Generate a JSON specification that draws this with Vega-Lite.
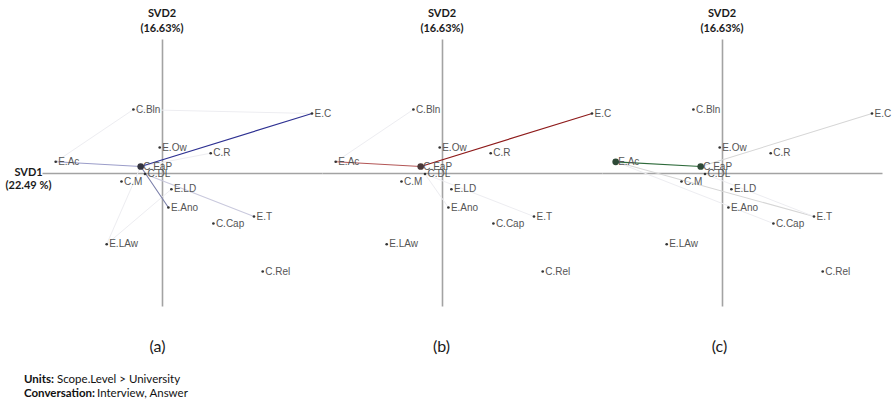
{
  "$schema": "https://vega.github.io/schema/vega-lite/v6.json",
  "background": "white",
  "padding": {"left": 5, "top": 8, "right": 0, "bottom": 0},
  "datasets": {
    "points": [
      {"label": "E.C", "x": 1.5, "y": 0.595},
      {"label": "C.Bln", "x": -0.286, "y": 0.635},
      {"label": "E.Ow", "x": -0.023, "y": 0.255},
      {"label": "C.R", "x": 0.487, "y": 0.198},
      {"label": "E.Ac", "x": -1.063, "y": 0.112},
      {"label": "C.EaP", "x": -0.213, "y": 0.065},
      {"label": "C.DL", "x": -0.17, "y": -0.01},
      {"label": "C.M", "x": -0.405, "y": -0.085},
      {"label": "E.LD", "x": 0.094, "y": -0.162},
      {"label": "E.Ano", "x": 0.064, "y": -0.345},
      {"label": "E.T", "x": 0.92, "y": -0.435},
      {"label": "C.Cap", "x": 0.514, "y": -0.505},
      {"label": "E.LAw", "x": -0.553, "y": -0.712},
      {"label": "C.Rel", "x": 1.007, "y": -0.985}
    ],
    "links": [
      {"panel": "a", "from": "C.Bln", "to": "E.C", "kind": "faint", "x": -0.286, "y": 0.635, "x2": 1.5, "y2": 0.595},
      {"panel": "a", "from": "C.Bln", "to": "E.Ac", "kind": "faint", "x": -0.286, "y": 0.635, "x2": -1.063, "y2": 0.112},
      {"panel": "a", "from": "C.R", "to": "C.EaP", "kind": "faint", "x": 0.487, "y": 0.198, "x2": -0.213, "y2": 0.065},
      {"panel": "a", "from": "E.LAw", "to": "C.EaP", "kind": "faint", "x": -0.553, "y": -0.712, "x2": -0.213, "y2": 0.065},
      {"panel": "a", "from": "E.LAw", "to": "E.LD", "kind": "faint", "x": -0.553, "y": -0.712, "x2": 0.094, "y2": -0.162},
      {"panel": "a", "from": "C.DL", "to": "E.T", "kind": "a_weak", "x": -0.17, "y": -0.01, "x2": 0.92, "y2": -0.435},
      {"panel": "a", "from": "E.Ac", "to": "C.EaP", "kind": "a_in", "x": -1.063, "y": 0.112, "x2": -0.213, "y2": 0.065},
      {"panel": "a", "from": "C.EaP", "to": "E.Ano", "kind": "a_out", "x": -0.213, "y": 0.065, "x2": 0.064, "y2": -0.345},
      {"panel": "a", "from": "C.EaP", "to": "E.C", "kind": "a_main", "x": -0.213, "y": 0.065, "x2": 1.5, "y2": 0.595},
      {"panel": "b", "from": "C.Bln", "to": "E.Ac", "kind": "faint", "x": -0.286, "y": 0.635, "x2": -1.063, "y2": 0.112},
      {"panel": "b", "from": "C.DL", "to": "E.T", "kind": "faint", "x": -0.17, "y": -0.01, "x2": 0.92, "y2": -0.435},
      {"panel": "b", "from": "C.DL", "to": "E.Ano", "kind": "faint", "x": -0.17, "y": -0.01, "x2": 0.064, "y2": -0.345},
      {"panel": "b", "from": "E.Ac", "to": "C.EaP", "kind": "b_in", "x": -1.063, "y": 0.112, "x2": -0.213, "y2": 0.065},
      {"panel": "b", "from": "C.EaP", "to": "E.C", "kind": "b_main", "x": -0.213, "y": 0.065, "x2": 1.5, "y2": 0.595},
      {"panel": "c", "from": "C.EaP", "to": "E.C", "kind": "light", "x": -0.213, "y": 0.065, "x2": 1.5, "y2": 0.595},
      {"panel": "c", "from": "E.Ac", "to": "E.T", "kind": "light", "x": -1.063, "y": 0.112, "x2": 0.92, "y2": -0.435},
      {"panel": "c", "from": "E.Ac", "to": "C.Cap", "kind": "faint", "x": -1.063, "y": 0.112, "x2": 0.514, "y2": -0.505},
      {"panel": "c", "from": "C.DL", "to": "E.T", "kind": "faint", "x": -0.17, "y": -0.01, "x2": 0.92, "y2": -0.435},
      {"panel": "c", "from": "E.Ac", "to": "C.EaP", "kind": "c_main", "x": -1.063, "y": 0.112, "x2": -0.213, "y2": 0.065}
    ],
    "big": [
      {"panel": "a", "label": "C.EaP", "kind": "a_node", "x": -0.213, "y": 0.065},
      {"panel": "b", "label": "C.EaP", "kind": "b_node", "x": -0.213, "y": 0.065},
      {"panel": "c", "label": "C.EaP", "kind": "c_node", "x": -0.213, "y": 0.065},
      {"panel": "c", "label": "E.Ac", "kind": "c_node", "x": -1.063, "y": 0.112}
    ],
    "notes": [
      {"line": 1, "label": "Units:", "rest": "Scope.Level > University"},
      {"line": 2, "label": "Conversation:", "rest": "Interview, Answer"}
    ]
  },
  "config": {
    "view": {"stroke": null},
    "axis": {"labels": false, "ticks": false, "domain": false, "grid": true, "gridColor": "#a3a3a3", "gridWidth": 1.6, "gridOpacity": 1},
    "title": {"font": "Lato", "fontSize": 11, "fontWeight": "bold", "color": "#1a1a1a", "lineHeight": 15, "offset": 5, "dx": -20, "anchor": "middle"}
  },
  "bounds": "flush",
  "spacing": 334,
  "vconcat": [
    {
      "bounds": "flush",
      "spacing": 0,
      "hconcat": [
        {
          "width": 280, "height": 267,
          "title": {"text": ["SVD2", "(16.63%)"]},
          "encoding": {
            "x": {"field": "x", "type": "quantitative", "scale": {"domain": [-1.2, 1.6], "nice": false, "zero": false}, "axis": {"values": [0], "title": "(a)", "titleFont": "Lato", "titleFontSize": 16, "titleFontWeight": "normal", "titleColor": "#1a1a1a", "titleX": 115, "titleY": 40, "titleAlign": "center", "titleBaseline": "middle"}},
            "y": {"field": "y", "type": "quantitative", "scale": {"domain": [-1.33, 1.34], "nice": false, "zero": false}, "axis": {"values": [0], "title": ["SVD1", "(22.49 %)"], "titleAngle": 0, "titleFont": "Lato", "titleFontSize": 11, "titleFontWeight": "bold", "titleColor": "#1a1a1a", "titleLineHeight": 13.5, "titleX": -14, "titleY": 127, "titleAlign": "center", "titleBaseline": "top"}}
          },
          "layer": [
            {
              "data": {"name": "links"},
              "transform": [{"filter": "datum.panel === 'a'"}],
              "mark": {"type": "rule", "strokeCap": "round"},
              "encoding": {
                "x2": {"field": "x2"},
                "y2": {"field": "y2"},
                "color": {"field": "kind", "type": "nominal", "legend": null, "scale": {"domain": ["faint", "light", "a_weak", "a_in", "a_out", "a_main", "b_in", "b_main", "c_main", "a_node", "b_node", "c_node"], "range": ["#ededf1", "#d6d6d6", "#c9c9dd", "#9b9dc9", "#7c80aa", "#2e3192", "#b35656", "#8e1b1b", "#2d6a3a", "#34343f", "#4a3838", "#2f4a37"]}},
                "strokeWidth": {"field": "kind", "type": "nominal", "legend": null, "scale": {"domain": ["faint", "light", "a_weak", "a_in", "a_out", "a_main", "b_in", "b_main", "c_main"], "range": [1, 1.2, 1.2, 1.5, 1.5, 2.2, 1.3, 2.2, 2.6]}}
              }
            },
            {
              "data": {"name": "points"},
              "mark": {"type": "circle", "size": 7, "color": "#333333", "opacity": 1}
            },
            {
              "data": {"name": "big"},
              "transform": [{"filter": "datum.panel === 'a'"}],
              "mark": {"type": "circle", "size": 45, "opacity": 1},
              "encoding": {"color": {"field": "kind", "type": "nominal", "legend": null}}
            },
            {
              "data": {"name": "points"},
              "mark": {"type": "text", "align": "left", "baseline": "middle", "dx": 2.5, "font": "Liberation Sans", "fontSize": 10, "color": "#555555"},
              "encoding": {"text": {"field": "label"}}
            }
          ]
        },
        {
          "width": 280, "height": 267,
          "title": {"text": ["SVD2", "(16.63%)"]},
          "encoding": {
            "x": {"field": "x", "type": "quantitative", "scale": {"domain": [-1.2, 1.6], "nice": false, "zero": false}, "axis": {"values": [0], "title": "(b)", "titleFont": "Lato", "titleFontSize": 16, "titleFontWeight": "normal", "titleColor": "#1a1a1a", "titleX": 119, "titleY": 40, "titleAlign": "center", "titleBaseline": "middle"}},
            "y": {"field": "y", "type": "quantitative", "scale": {"domain": [-1.33, 1.34], "nice": false, "zero": false}, "axis": {"values": [0], "title": null}}
          },
          "layer": [
            {
              "data": {"name": "links"},
              "transform": [{"filter": "datum.panel === 'b'"}],
              "mark": {"type": "rule", "strokeCap": "round"},
              "encoding": {
                "x2": {"field": "x2"},
                "y2": {"field": "y2"},
                "color": {"field": "kind", "type": "nominal", "legend": null, "scale": {"domain": ["faint", "light", "a_weak", "a_in", "a_out", "a_main", "b_in", "b_main", "c_main", "a_node", "b_node", "c_node"], "range": ["#ededf1", "#d6d6d6", "#c9c9dd", "#9b9dc9", "#7c80aa", "#2e3192", "#b35656", "#8e1b1b", "#2d6a3a", "#34343f", "#4a3838", "#2f4a37"]}},
                "strokeWidth": {"field": "kind", "type": "nominal", "legend": null, "scale": {"domain": ["faint", "light", "a_weak", "a_in", "a_out", "a_main", "b_in", "b_main", "c_main"], "range": [1, 1.2, 1.2, 1.5, 1.5, 2.2, 1.3, 2.2, 2.6]}}
              }
            },
            {
              "data": {"name": "points"},
              "mark": {"type": "circle", "size": 7, "color": "#333333", "opacity": 1}
            },
            {
              "data": {"name": "big"},
              "transform": [{"filter": "datum.panel === 'b'"}],
              "mark": {"type": "circle", "size": 45, "opacity": 1},
              "encoding": {"color": {"field": "kind", "type": "nominal", "legend": null}}
            },
            {
              "data": {"name": "points"},
              "mark": {"type": "text", "align": "left", "baseline": "middle", "dx": 2.5, "font": "Liberation Sans", "fontSize": 10, "color": "#555555"},
              "encoding": {"text": {"field": "label"}}
            }
          ]
        },
        {
          "width": 280, "height": 267,
          "title": {"text": ["SVD2", "(16.63%)"]},
          "encoding": {
            "x": {"field": "x", "type": "quantitative", "scale": {"domain": [-1.2, 1.6], "nice": false, "zero": false}, "axis": {"values": [0], "title": "(c)", "titleFont": "Lato", "titleFontSize": 16, "titleFontWeight": "normal", "titleColor": "#1a1a1a", "titleX": 117, "titleY": 40, "titleAlign": "center", "titleBaseline": "middle"}},
            "y": {"field": "y", "type": "quantitative", "scale": {"domain": [-1.33, 1.34], "nice": false, "zero": false}, "axis": {"values": [0], "title": null}}
          },
          "layer": [
            {
              "data": {"name": "links"},
              "transform": [{"filter": "datum.panel === 'c'"}],
              "mark": {"type": "rule", "strokeCap": "round"},
              "encoding": {
                "x2": {"field": "x2"},
                "y2": {"field": "y2"},
                "color": {"field": "kind", "type": "nominal", "legend": null, "scale": {"domain": ["faint", "light", "a_weak", "a_in", "a_out", "a_main", "b_in", "b_main", "c_main", "a_node", "b_node", "c_node"], "range": ["#ededf1", "#d6d6d6", "#c9c9dd", "#9b9dc9", "#7c80aa", "#2e3192", "#b35656", "#8e1b1b", "#2d6a3a", "#34343f", "#4a3838", "#2f4a37"]}},
                "strokeWidth": {"field": "kind", "type": "nominal", "legend": null, "scale": {"domain": ["faint", "light", "a_weak", "a_in", "a_out", "a_main", "b_in", "b_main", "c_main"], "range": [1, 1.2, 1.2, 1.5, 1.5, 2.2, 1.3, 2.2, 2.6]}}
              }
            },
            {
              "data": {"name": "points"},
              "mark": {"type": "circle", "size": 7, "color": "#333333", "opacity": 1}
            },
            {
              "data": {"name": "big"},
              "transform": [{"filter": "datum.panel === 'c'"}],
              "mark": {"type": "circle", "size": 45, "opacity": 1},
              "encoding": {"color": {"field": "kind", "type": "nominal", "legend": null}}
            },
            {
              "data": {"name": "points"},
              "mark": {"type": "text", "align": "left", "baseline": "middle", "dx": 2.5, "font": "Liberation Sans", "fontSize": 10, "color": "#555555"},
              "encoding": {"text": {"field": "label"}}
            }
          ]
        }
      ]
    },
    {
      "width": 300,
      "height": {"step": 14},
      "data": {"name": "notes"},
      "layer": [
        {"mark": {"type": "text", "align": "left", "baseline": "middle", "font": "Lato", "fontSize": 11.5, "fontWeight": "bold", "color": "#111111", "dx": -18}, "encoding": {"y": {"field": "line", "type": "ordinal", "axis": null}, "x": {"value": 0}, "text": {"field": "label"}}},
        {"transform": [{"filter": "datum.line === 1"}], "mark": {"type": "text", "align": "left", "baseline": "middle", "font": "Lato", "fontSize": 11.5, "fontWeight": "normal", "color": "#111111", "dx": 15}, "encoding": {"y": {"field": "line", "type": "ordinal", "axis": null}, "x": {"value": 0}, "text": {"field": "rest"}}},
        {"transform": [{"filter": "datum.line === 2"}], "mark": {"type": "text", "align": "left", "baseline": "middle", "font": "Lato", "fontSize": 11.5, "fontWeight": "normal", "color": "#111111", "dx": 55}, "encoding": {"y": {"field": "line", "type": "ordinal", "axis": null}, "x": {"value": 0}, "text": {"field": "rest"}}}
      ]
    }
  ]
}
